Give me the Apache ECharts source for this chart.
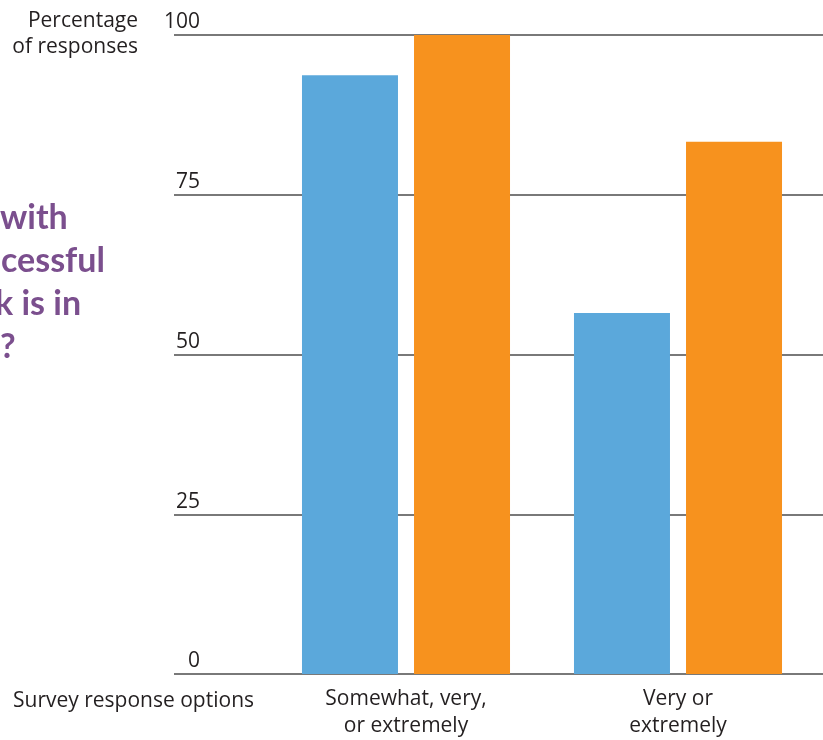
<!DOCTYPE html>
<html>
<head>
<meta charset="utf-8">
<script src="https://cdn.jsdelivr.net/npm/echarts@6/dist/echarts.min.js"></script>
<style>
  html, body { margin: 0; padding: 0; background: #fff; }
  #chart { width: 823px; height: 740px; }
</style>
</head>
<body>
<div id="chart"></div>
<script>
const categories = ['Somewhat, very,\nor extremely', 'Very or\nextremely'];
const seriesBlue = [93.7, 56.5];
const seriesOrange = [100, 83.3];
const yTicks = [0, 25, 50, 75, 100];
const titleFragments = ['with', 'cessful', 'k is in', '?'];
const yAxisTitle = ['Percentage', 'of responses'];
const xAxisTitle = 'Survey response options';

const FONT = '"Open Sans", "Noto Sans", sans-serif';
const TITLE_FONT = 'Lato, "Open Sans", sans-serif';
const TEXT = '#231f20';
const PURPLE = '#7b4f8e';

const chart = echarts.init(document.getElementById('chart'), null, { renderer: 'canvas' });

const titleOffsets = [0, 1, -5, 0];
const graphics = titleFragments.map((t, i) => ({
  type: 'text',
  x: titleOffsets[i],
  y: 218 + i * 43,
  style: { text: t, font: 'bold 34px ' + TITLE_FONT, fill: PURPLE, align: 'left', verticalAlign: 'middle' }
}));
yAxisTitle.forEach((t, i) => {
  graphics.push({
    type: 'text',
    x: 138,
    y: 21 + i * 26,
    style: { text: t, font: '21px ' + FONT, fill: TEXT, align: 'right', verticalAlign: 'middle' }
  });
});
graphics.push({
  type: 'text',
  x: 13,
  y: 701,
  style: { text: xAxisTitle, font: '21px ' + FONT, fill: TEXT, align: 'left', verticalAlign: 'middle' }
});

chart.setOption({
  animation: false,
  graphic: graphics,
  grid: [
    { left: 174, right: 0, top: 35, bottom: 66, containLabel: false, outerBoundsMode: 'none' },
    { left: 270, right: 9, top: 35, bottom: 66, containLabel: false, outerBoundsMode: 'none' }
  ],
  xAxis: [
    { gridIndex: 0, type: 'category', data: categories, show: false },
    {
      gridIndex: 1, type: 'category', data: categories,
      axisLine: { show: false }, axisTick: { show: false },
      axisLabel: { fontFamily: FONT, fontSize: 21, lineHeight: 27, color: TEXT, margin: 12 }
    }
  ],
  yAxis: [
    {
      gridIndex: 0, type: 'value', min: 0, max: 100, interval: 25,
      axisLine: { show: false }, axisTick: { show: false },
      splitLine: { show: true, lineStyle: { color: '#4d4d4d', width: 1.5 } },
      axisLabel: {
        fontFamily: FONT, fontSize: 21, color: TEXT, align: 'right',
        verticalAlign: 'bottom', margin: -26, padding: [0, 0, 2, 0],
        formatter: v => (yTicks.indexOf(v) >= 0 ? String(v) : '')
      }
    },
    { gridIndex: 1, type: 'value', min: 0, max: 100, show: false, splitLine: { show: false } }
  ],
  series: [
    {
      type: 'bar', xAxisIndex: 1, yAxisIndex: 1, data: seriesBlue,
      barWidth: 96, barGap: '16.7%', itemStyle: { color: '#5ba8db' }
    },
    {
      type: 'bar', xAxisIndex: 1, yAxisIndex: 1, data: seriesOrange,
      barWidth: 96, barGap: '16.7%', itemStyle: { color: '#f7921e' }
    }
  ]
});
</script>
</body>
</html>
